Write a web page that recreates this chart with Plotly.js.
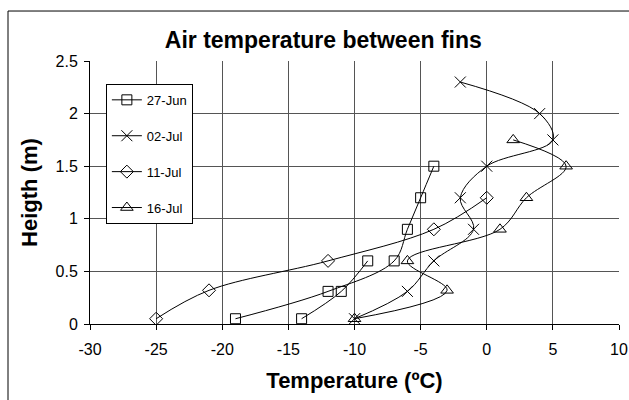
<!DOCTYPE html>
<html>
<head>
<meta charset="utf-8">
<script src="https://cdn.plot.ly/plotly-3.0.1.min.js"></script>
<style>html,body{margin:0;padding:0;background:#fff;}#chart{width:629px;height:400px;}</style>
</head>
<body>
<div id="chart"></div>
<script>
// Data (temperature in ºC, height in m)
var seriesNames = ["27-Jun", "02-Jul", "11-Jul", "16-Jul"];

// 27-Jun has two separate line pieces (null = break in the line)
var jun27Temp   = [-14, -11, -9, null, -19, -12, -7, -6, -5, -4];
var jun27Height = [0.05, 0.31, 0.6, null, 0.05, 0.31, 0.6, 0.9, 1.2, 1.5];

var jul02Temp   = [-10, -6, -4, -1, -2, 0, 5, 4, -2];
var jul02Height = [0.05, 0.31, 0.6, 0.9, 1.2, 1.5, 1.75, 2.0, 2.3];

var jul11Temp   = [-25, -21, -12, -4, 0];
var jul11Height = [0.05, 0.32, 0.6, 0.9, 1.2];

var jul16Temp   = [-10, -3, -6, 1, 3, 6, 2];
var jul16Height = [0.05, 0.32, 0.6, 0.9, 1.2, 1.5, 1.75];

var xTicks = [-30, -25, -20, -15, -10, -5, 0, 5, 10];
var yTicks = [0, 0.5, 1, 1.5, 2, 2.5];

var FONT = "Arial, 'Liberation Sans', sans-serif";

function mk(name, x, y, symbol, size) {
  return {
    type: "scatter", mode: "lines+markers", name: name, x: x, y: y,
    legendgroup: name, connectgaps: false,
    line: {color: "#000", width: 1, shape: "spline", smoothing: 1},
    marker: {symbol: symbol, size: size, color: "#000", line: {color: "#000", width: 1}}
  };
}

var data = [
  mk(seriesNames[0], jun27Temp, jun27Height, "square-open", 10),
  mk(seriesNames[1], jul02Temp, jul02Height, "x-thin-open", 11),
  mk(seriesNames[2], jul11Temp, jul11Height, "diamond-open", 10),
  mk(seriesNames[3], jul16Temp, jul16Height, "triangle-up-open", 11)
];

var layout = {
  width: 629, height: 400,
  margin: {l: 90, r: 10, t: 61, b: 76},
  paper_bgcolor: "#fff", plot_bgcolor: "#fff",
  font: {family: FONT, color: "#000", size: 16},
  title: {text: "<b>Air temperature between fins</b>", font: {family: FONT, size: 23, color: "#000"},
          x: 0.514, xref: "container", xanchor: "center", y: 0.9, yref: "container", yanchor: "middle"},
  xaxis: {
    range: [-30, 10], tickvals: xTicks, ticktext: xTicks.map(String),
    showgrid: true, gridcolor: "#555", gridwidth: 1, zeroline: false,
    showline: true, linecolor: "#000", linewidth: 1,
    ticks: "outside", ticklen: 5, tickcolor: "#000", ticklabelstandoff: 6,
    tickfont: {family: FONT, size: 16, color: "#000"},
    title: {text: "<b>Temperature (ºC)</b>", font: {family: FONT, size: 22, color: "#000"}, standoff: 15},
    fixedrange: true
  },
  yaxis: {
    range: [0, 2.5], tickvals: yTicks, ticktext: yTicks.map(String),
    showgrid: true, gridcolor: "#555", gridwidth: 1, zeroline: false,
    showline: true, linecolor: "#000", linewidth: 1,
    ticks: "outside", ticklen: 5, tickcolor: "#000", ticklabelstandoff: 3,
    tickfont: {family: FONT, size: 16, color: "#000"},
    title: {text: "<b>Heigth (m)</b>", font: {family: FONT, size: 22, color: "#000"}, standoff: 11},
    fixedrange: true
  },
  showlegend: true,
  legend: {
    x: 0.030, y: 0.913, xanchor: "left", yanchor: "top",
    bgcolor: "#fff", bordercolor: "#000", borderwidth: 1,
    font: {family: FONT, size: 13, color: "#000"},
    traceorder: "grouped", tracegroupgap: 16, itemwidth: 30
  },
  shapes: [{
    type: "rect", xref: "paper", yref: "paper",
    x0: -0.155, x1: 1.05, y0: -0.35, y1: 1.19,
    line: {color: "#000", width: 1}, fillcolor: "rgba(0,0,0,0)", layer: "above"
  }]
};

Plotly.newPlot("chart", data, layout, {staticPlot: true, displayModeBar: false});
</script>
</body>
</html>
